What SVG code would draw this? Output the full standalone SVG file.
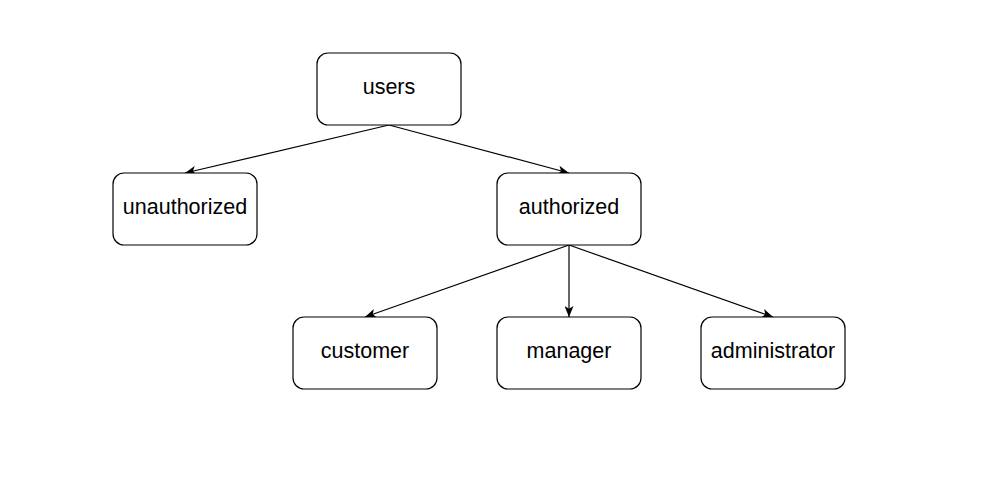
<svg xmlns="http://www.w3.org/2000/svg" width="981" height="497" viewBox="0 0 981 497">
<style>
.n rect{fill:#fff;stroke:#000;stroke-width:1.2}
.n text{font-family:"Liberation Sans",Arial,sans-serif;font-size:21.5px;fill:#000;text-anchor:middle;dominant-baseline:central}
.e path{fill:none;stroke:#000;stroke-width:1.2}
</style>
<defs>
<marker id="a" viewBox="0 0 11 9" refX="11" refY="4.5" markerWidth="11" markerHeight="9" markerUnits="userSpaceOnUse" orient="auto">
<path d="M0,0 L11,4.5 L0,9 L2.8,4.5 Z" fill="#000"/>
</marker>
</defs>
<rect width="981" height="497" fill="#fff"/>
<g class="e">
<path d="M389,125 L185,173" marker-end="url(#a)"/>
<path d="M389,125 L569,173" marker-end="url(#a)"/>
<path d="M569,245 L365,317" marker-end="url(#a)"/>
<path d="M569,245 L569,317" marker-end="url(#a)"/>
<path d="M569,245 L773,317" marker-end="url(#a)"/>
</g>
<g id="users" class="n"><rect x="317" y="53" width="144" height="72" rx="11"/><text x="389" y="87">users</text></g>
<g id="unauthorized" class="n"><rect x="113" y="173" width="144" height="72" rx="11"/><text x="185" y="207">unauthorized</text></g>
<g id="authorized" class="n"><rect x="497" y="173" width="144" height="72" rx="11"/><text x="569" y="207">authorized</text></g>
<g id="customer" class="n"><rect x="293" y="317" width="144" height="72" rx="11"/><text x="365" y="351">customer</text></g>
<g id="manager" class="n"><rect x="497" y="317" width="144" height="72" rx="11"/><text x="569" y="351">manager</text></g>
<g id="administrator" class="n"><rect x="701" y="317" width="144" height="72" rx="11"/><text x="773" y="351">administrator</text></g>
</svg>
